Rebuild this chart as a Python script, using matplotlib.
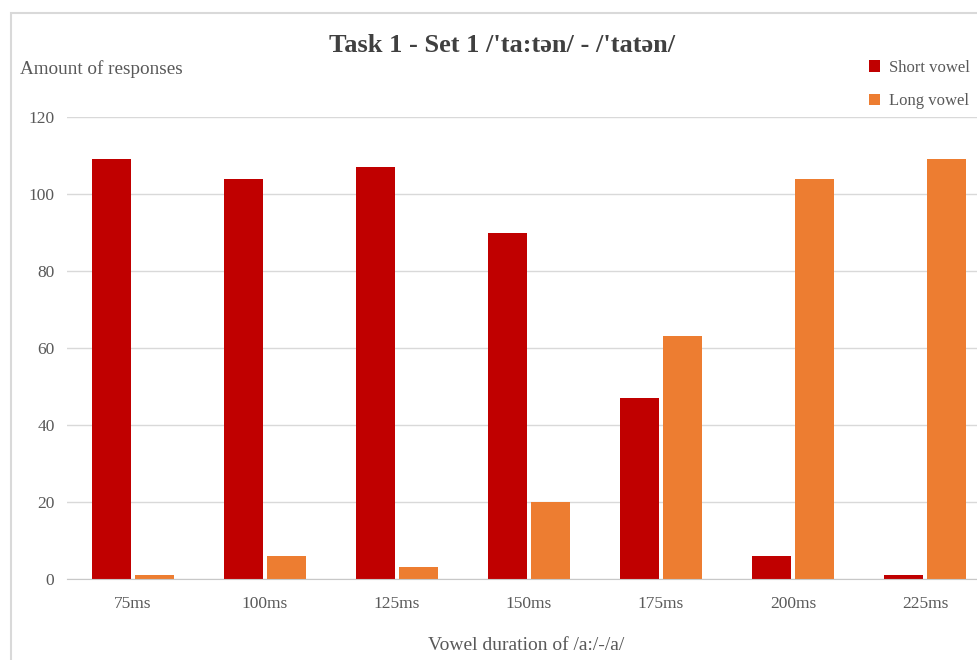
import numpy as np
import matplotlib.pyplot as plt
from matplotlib.patches import Rectangle

# response counts per vowel duration step
durations = ["75ms", "100ms", "125ms", "150ms", "175ms", "200ms", "225ms"]
short_vowel = [109, 104, 107, 90, 47, 6, 1]
long_vowel = [1, 6, 3, 20, 63, 104, 109]

plt.rcParams['font.family'] = ['Liberation Serif', 'DejaVu Serif']
text_col = '#595959'

fig = plt.figure(figsize=(9.78, 6.6), dpi=100)
# chart frame, clipped by the right and bottom edge of the image
fig.patches.append(Rectangle((11 / 978, -0.1), 1.2, 1 - 13 / 660 + 0.1,
                             transform=fig.transFigure, fill=False,
                             edgecolor='#D9D9D9', linewidth=1.5))

ax = fig.add_axes([67 / 978, 1 - 579 / 660, 924 / 978, 462 / 660])
x = np.arange(len(durations))
w = 0.295
ax.bar(x - 0.165, short_vowel, w, color='#C00000', label='Short vowel', zorder=3)
ax.bar(x + 0.165, long_vowel, w, color='#ED7D31', label='Long vowel', zorder=3)

ax.set_xlim(-0.5, len(durations) - 0.5)
ax.set_ylim(0, 120)
ax.set_yticks(range(0, 121, 20))
ax.set_xticks(x)
ax.set_xticklabels(durations)
ax.grid(axis='y', color='#D9D9D9', linewidth=1, zorder=0)
for s in ['top', 'right', 'left']:
    ax.spines[s].set_visible(False)
ax.spines['bottom'].set_color('#C8C8C8')
ax.spines['bottom'].set_zorder(4)
ax.tick_params(length=0, labelcolor=text_col, labelsize=12.5)
ax.tick_params(axis='y', pad=9)
ax.tick_params(axis='x', pad=12)

fig.text(502 / 978, 1 - 45 / 660, "Task 1 - Set 1 /'ta:tən/ - /'tatən/",
         ha='center', va='center', fontsize=19, fontweight='bold', color='#404040')
fig.text(20 / 978, 1 - 69 / 660, "Amount of responses", ha='left', va='center',
         fontsize=13.8, color=text_col)
fig.text(526 / 978, 1 - 645 / 660, "Vowel duration of /a:/-/a/", ha='center',
         va='center', fontsize=14, color=text_col)

leg = fig.legend(loc='upper left', bbox_to_anchor=(862 / 978, 1 - 53 / 660),
                 frameon=False, fontsize=12, handlelength=0.7, handleheight=0.7,
                 handletextpad=0.5, labelspacing=1.05, borderaxespad=0)
for t in leg.get_texts():
    t.set_color(text_col)

fig.savefig('out.png', dpi=100)
